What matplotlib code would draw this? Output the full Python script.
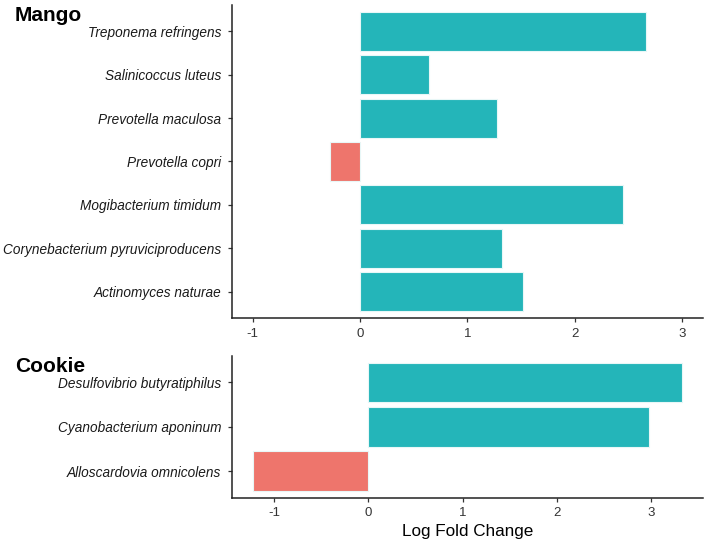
import matplotlib
matplotlib.use("Agg")
import matplotlib.pyplot as plt

plt.rcParams['font.family'] = ['Liberation Sans', 'DejaVu Sans']

# Mango
mango_taxa = ["Treponema refringens", "Salinicoccus luteus", "Prevotella maculosa",
              "Prevotella copri", "Mogibacterium timidum",
              "Corynebacterium pyruviciproducens", "Actinomyces naturae"]
mango_lfc = [2.67, 0.64, 1.28, -0.28, 2.45, 1.32, 1.52]

# Cookie
cookie_taxa = ["Desulfovibrio butyratiphilus", "Cyanobacterium aponinum",
               "Alloscardovia omnicolens"]
cookie_lfc = [3.32, 2.97, -1.22]

x_ticks = [-1, 0, 1, 2, 3]

POS = "#24B5B9"
NEG = "#EE756C"

W, H = 709, 545
fig = plt.figure(figsize=(W / 100, H / 100), dpi=100)
ax1 = fig.add_axes([0.3268, 0.4169, 0.9915 - 0.3268, 0.9905 - 0.4169])
ax2 = fig.add_axes([0.3268, 0.0868, 0.9915 - 0.3268, 0.347 - 0.0868])


def draw(ax, taxa, vals, xlim, title):
    n = len(taxa)
    ys = list(range(n))[::-1]
    cols = [POS if v > 0 else NEG for v in vals]
    ax.barh(ys, vals, height=0.9, color=cols, edgecolor="#E8F7F7", linewidth=0.8)
    ax.set_yticks(ys)
    ax.set_yticklabels(taxa, fontstyle="italic", fontsize=9.8, color="#1a1a1a")
    ax.set_ylim(-0.6, n - 1 + 0.6)
    ax.set_xlim(*xlim)
    ax.set_xticks(x_ticks)
    ax.set_xticklabels([str(t) for t in x_ticks], fontsize=9.5, color="#333333")
    for s in ["top", "right"]:
        ax.spines[s].set_visible(False)
    for s in ["left", "bottom"]:
        ax.spines[s].set_linewidth(1.1)
        ax.spines[s].set_color("#222222")
    ax.tick_params(length=3, width=0.9, color="#333333")
    ax.tick_params(axis="y", pad=4.5)
    ax.tick_params(axis="x", pad=4)
    # title: left edge at 15 px, baseline 16 px under the panel top
    bb = ax.get_position()
    fig.text(15 / W, bb.y1 - 16 / H, title, fontsize=15, fontweight="bold",
             va="baseline", ha="left")


draw(ax1, mango_taxa, mango_lfc, (-1.196, 3.197), "Mango")
lo, hi = min(cookie_lfc), max(cookie_lfc)
pad = 0.05 * (hi - lo)
draw(ax2, cookie_taxa, cookie_lfc, (lo - pad, hi + pad), "Cookie")
ax2.set_xlabel("Log Fold Change", fontsize=12.3, labelpad=3)

fig.savefig("out.png", dpi=100)
